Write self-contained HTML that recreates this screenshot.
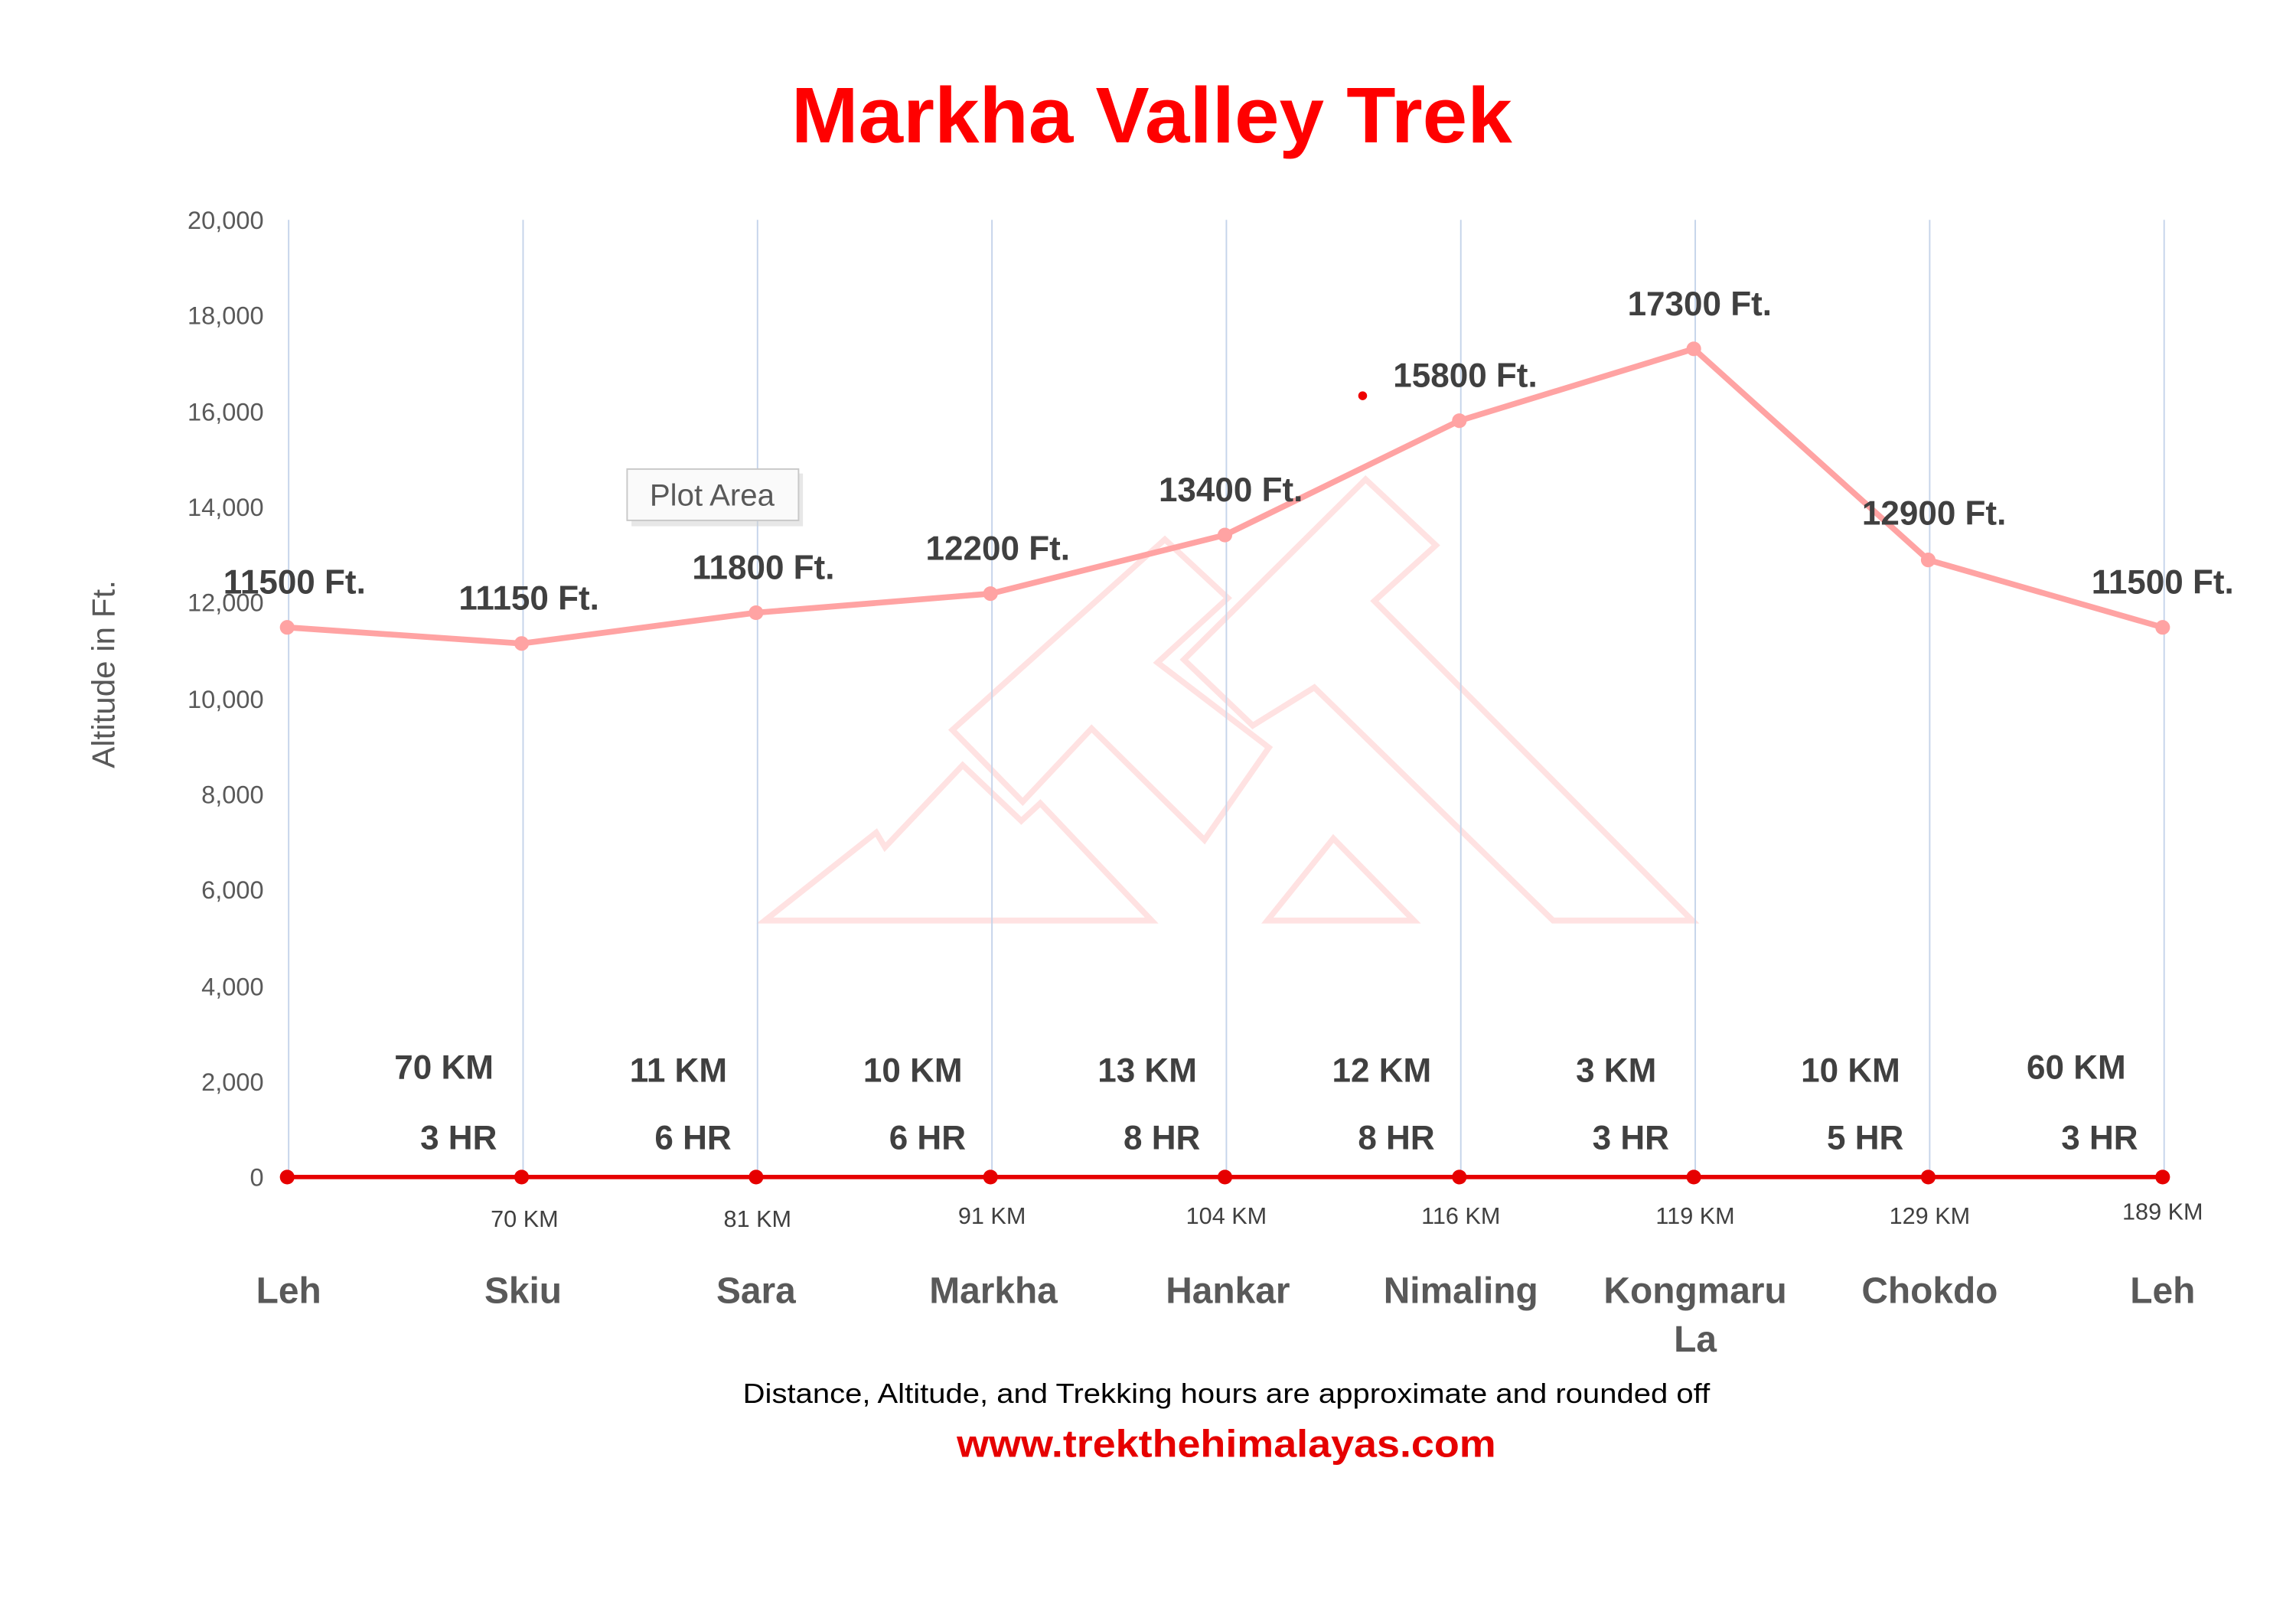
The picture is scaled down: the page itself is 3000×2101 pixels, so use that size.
<!DOCTYPE html>
<html><head><meta charset="utf-8"><style>
html,body{margin:0;padding:0;background:#fff;}
svg{display:block;}
text{font-family:"Liberation Sans Narrow","Liberation Sans",sans-serif;}
</style></head><body>
<svg width="3000" height="2101" viewBox="0 0 1567 1097" preserveAspectRatio="none" xmlns="http://www.w3.org/2000/svg">
<rect width="1567" height="1097" fill="#fff"/>
<text x="786" y="97" text-anchor="middle" font-size="54" font-weight="bold" fill="#ff0000" textLength="492" lengthAdjust="spacingAndGlyphs">Markha Valley Trek</text>

<g fill="none" stroke="#ffe2e2" stroke-width="4" stroke-linejoin="miter">
<path d="M522,628 L598,568 L604,578 L657,522 L697,560 L710,548 L786,628 Z"/>
<path d="M650,498 L795,368 L838,408 L790,452 L866,510 L822,573 L745,497 L698,547 Z"/>
<path d="M808,450 L932,327 L980,372 L938,410 L1155,628 L1060,628 L897,469 L855,495 Z"/>
<path d="M865,628 L910,572 L965,628 Z"/>
</g>

<g stroke="#c5d4ea" stroke-width="1">
<line x1="197" y1="150" x2="197" y2="803"/><line x1="357" y1="150" x2="357" y2="803"/>
<line x1="517" y1="150" x2="517" y2="803"/><line x1="677" y1="150" x2="677" y2="803"/>
<line x1="837" y1="150" x2="837" y2="803"/><line x1="997" y1="150" x2="997" y2="803"/>
<line x1="1157" y1="150" x2="1157" y2="803"/><line x1="1317" y1="150" x2="1317" y2="803"/>
<line x1="1477" y1="150" x2="1477" y2="803"/>
</g>

<g font-size="17" fill="#595959" text-anchor="end">
<text x="180" y="156">20,000</text><text x="180" y="221">18,000</text><text x="180" y="287">16,000</text>
<text x="180" y="352">14,000</text><text x="180" y="417">12,000</text><text x="180" y="483">10,000</text>
<text x="180" y="548">8,000</text><text x="180" y="613">6,000</text><text x="180" y="679">4,000</text>
<text x="180" y="744">2,000</text><text x="180" y="809">0</text>
</g>
<text transform="translate(78,460) rotate(-90)" text-anchor="middle" font-size="22" fill="#595959">Altitude in Ft.</text>

<polyline fill="none" stroke="#ffa3a3" stroke-width="4" points="196,428 356,439 516,418 676,405 836,365 996,287 1156,238 1316,382 1476,428"/>
<g fill="#ffa3a3">
<circle cx="196" cy="428" r="5"/><circle cx="356" cy="439" r="5"/><circle cx="516" cy="418" r="5"/>
<circle cx="676" cy="405" r="5"/><circle cx="836" cy="365" r="5"/><circle cx="996" cy="287" r="5"/>
<circle cx="1156" cy="238" r="5"/><circle cx="1316" cy="382" r="5"/><circle cx="1476" cy="428" r="5"/>
</g>
<circle cx="930" cy="270" r="3" fill="#e00"/>
<g font-size="23" font-weight="bold" fill="#404040" text-anchor="middle">
<text x="201" y="405">11500 Ft.</text><text x="361" y="416">11150 Ft.</text><text x="521" y="395">11800 Ft.</text>
<text x="681" y="382">12200 Ft.</text><text x="840" y="342">13400 Ft.</text><text x="1000" y="264">15800 Ft.</text>
<text x="1160" y="215">17300 Ft.</text><text x="1320" y="358">12900 Ft.</text><text x="1476" y="405">11500 Ft.</text>
</g>

<line x1="196" y1="803" x2="1476" y2="803" stroke="#e60000" stroke-width="3"/>
<g fill="#e60000">
<circle cx="196" cy="803" r="5"/><circle cx="356" cy="803" r="5"/><circle cx="516" cy="803" r="5"/>
<circle cx="676" cy="803" r="5"/><circle cx="836" cy="803" r="5"/><circle cx="996" cy="803" r="5"/>
<circle cx="1156" cy="803" r="5"/><circle cx="1316" cy="803" r="5"/><circle cx="1476" cy="803" r="5"/>
</g>
<g font-size="23" font-weight="bold" fill="#404040" text-anchor="middle">
<text x="303" y="736">70 KM</text><text x="463" y="738">11 KM</text><text x="623" y="738">10 KM</text>
<text x="783" y="738">13 KM</text><text x="943" y="738">12 KM</text><text x="1103" y="738">3 KM</text>
<text x="1263" y="738">10 KM</text><text x="1417" y="736">60 KM</text>
<text x="313" y="784">3 HR</text><text x="473" y="784">6 HR</text><text x="633" y="784">6 HR</text>
<text x="793" y="784">8 HR</text><text x="953" y="784">8 HR</text><text x="1113" y="784">3 HR</text>
<text x="1273" y="784">5 HR</text><text x="1433" y="784">3 HR</text>
</g>
<g font-size="16" fill="#404040" text-anchor="middle">
<text x="358" y="837">70 KM</text><text x="517" y="837">81 KM</text><text x="677" y="835">91 KM</text>
<text x="837" y="835">104 KM</text><text x="997" y="835">116 KM</text><text x="1157" y="835">119 KM</text>
<text x="1317" y="835">129 KM</text><text x="1476" y="832">189 KM</text>
</g>
<g font-size="25" font-weight="bold" fill="#595959" text-anchor="middle">
<text x="197" y="889">Leh</text><text x="357" y="889">Skiu</text><text x="516" y="889">Sara</text>
<text x="678" y="889">Markha</text><text x="838" y="889">Hankar</text><text x="997" y="889">Nimaling</text>
<text x="1157" y="889">Kongmaru</text><text x="1157" y="922">La</text>
<text x="1317" y="889">Chokdo</text><text x="1476" y="889">Leh</text>
</g>

<text x="837" y="957" text-anchor="middle" font-size="19" fill="#000" textLength="660" lengthAdjust="spacingAndGlyphs">Distance, Altitude, and Trekking hours are approximate and rounded off</text>
<text x="837" y="994" text-anchor="middle" font-size="26" font-weight="bold" fill="#e60000" textLength="368" lengthAdjust="spacingAndGlyphs">www.trekthehimalayas.com</text>

<rect x="431" y="323" width="117" height="36" fill="#cfcfcf" opacity="0.5"/>
<rect x="428" y="320" width="117" height="35" fill="#fafafa" stroke="#c8c8c8" stroke-width="1"/>
<text x="486" y="345" text-anchor="middle" font-size="21" fill="#595959">Plot Area</text>
</svg>
</body></html>
